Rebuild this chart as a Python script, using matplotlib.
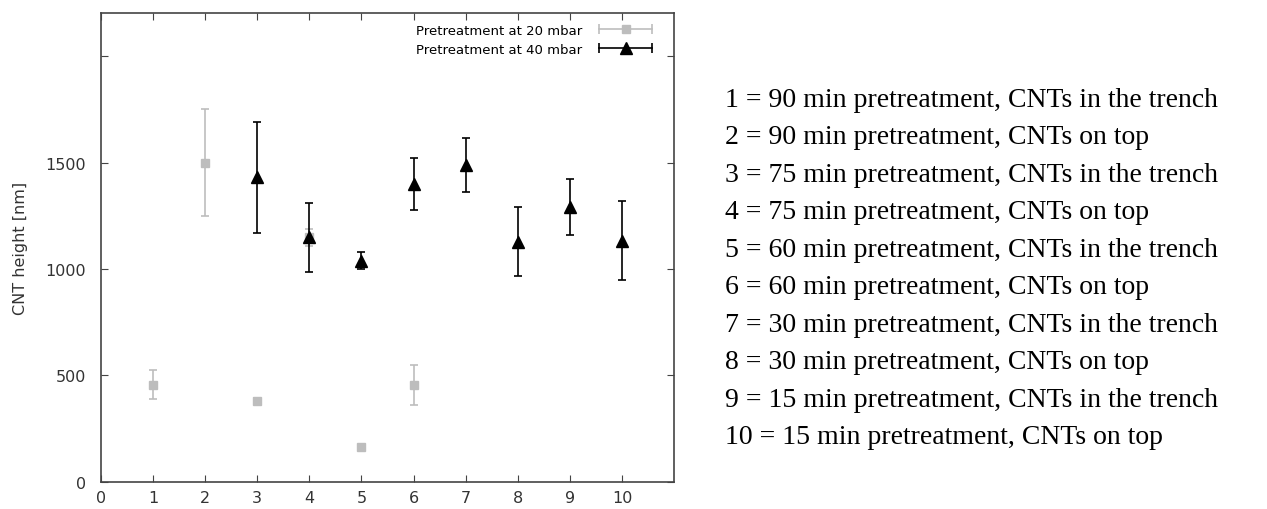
import matplotlib.pyplot as plt
from matplotlib.lines import Line2D
from matplotlib.legend_handler import HandlerLine2D

# sample index 1..10, heights in nm
x_20 = [1, 2, 3, 4, 5, 6]
y_20 = [457, 1500, 382, 1150, 164, 455]
err_20 = [67, 252, 12, 40, 8, 95]

x_40 = [3, 4, 5, 6, 7, 8, 9, 10]
y_40 = [1430, 1148, 1039, 1399, 1488, 1128, 1290, 1133]
err_40 = [260, 163, 40, 120, 128, 163, 132, 185]

x_ticks = list(range(0, 11))
y_ticks = [0, 500, 1000, 1500]

legend_labels = ["Pretreatment at 20 mbar", "Pretreatment at 40 mbar"]

key_lines = [
    "1 = 90 min pretreatment, CNTs in the trench",
    "2 = 90 min pretreatment, CNTs on top",
    "3 = 75 min pretreatment, CNTs in the trench",
    "4 = 75 min pretreatment, CNTs on top",
    "5 = 60 min pretreatment, CNTs in the trench",
    "6 = 60 min pretreatment, CNTs on top",
    "7 = 30 min pretreatment, CNTs in the trench",
    "8 = 30 min pretreatment, CNTs on top",
    "9 = 15 min pretreatment, CNTs in the trench",
    "10 = 15 min pretreatment, CNTs on top",
]

gray = "#bdbdbd"

fig = plt.figure(figsize=(12.67, 5.10), dpi=100)
ax = fig.add_axes([0.0797, 0.053, 0.4523, 0.9187])

ax.errorbar(x_20, y_20, yerr=err_20, fmt="s", color=gray, ms=6,
            elinewidth=1.2, capsize=3, capthick=1.2)
ax.errorbar(x_40, y_40, yerr=err_40, fmt="^", color="black", ms=8,
            elinewidth=1.2, capsize=3, capthick=1.2)

ax.set_xlim(0, 11)
ax.set_ylim(0, 2200)
ax.set_xticks(x_ticks)
ax.set_yticks(y_ticks + [2000])
ax.set_yticklabels([str(v) for v in y_ticks] + [""])

for s in ax.spines.values():
    s.set_color("#444444")
    s.set_linewidth(1.2)
ax.tick_params(direction="in", top=True, right=True, length=5,
               color="#444444", labelsize=11.5, labelcolor="#333333")
ax.tick_params(axis="y", pad=11)
ax.tick_params(axis="x", pad=6)
ax.set_ylabel("CNT height [nm]", fontsize=11.5, color="#333333", labelpad=12)

# legend samples drawn like gnuplot: horizontal bar with caps, marker in middle
handles = []
hmap = {}
for col, mk, size in [(gray, "s", 6), ("black", "^", 8)]:
    bar = Line2D([], [], color=col, lw=1.2, marker="|", ms=7, mew=1.2)
    dot = Line2D([], [], color=col, ls="none", marker=mk, ms=size)
    hmap[bar] = HandlerLine2D(numpoints=2)
    hmap[dot] = HandlerLine2D(numpoints=1)
    handles.append((bar, dot))

ax.legend(handles, legend_labels, handler_map=hmap, loc="upper right",
          bbox_to_anchor=(0.9913, 1.0064), frameon=False, markerfirst=False,
          fontsize=9.5, handlelength=4.6, borderaxespad=0.6,
          labelspacing=0.45, handletextpad=1.0)

y0 = 0.803
step = 0.0735
for i, line in enumerate(key_lines):
    fig.text(0.572, y0 - i * step, line, family="Liberation Serif",
             fontsize=20, va="center", ha="left")

fig.savefig("out.png", dpi=100)
